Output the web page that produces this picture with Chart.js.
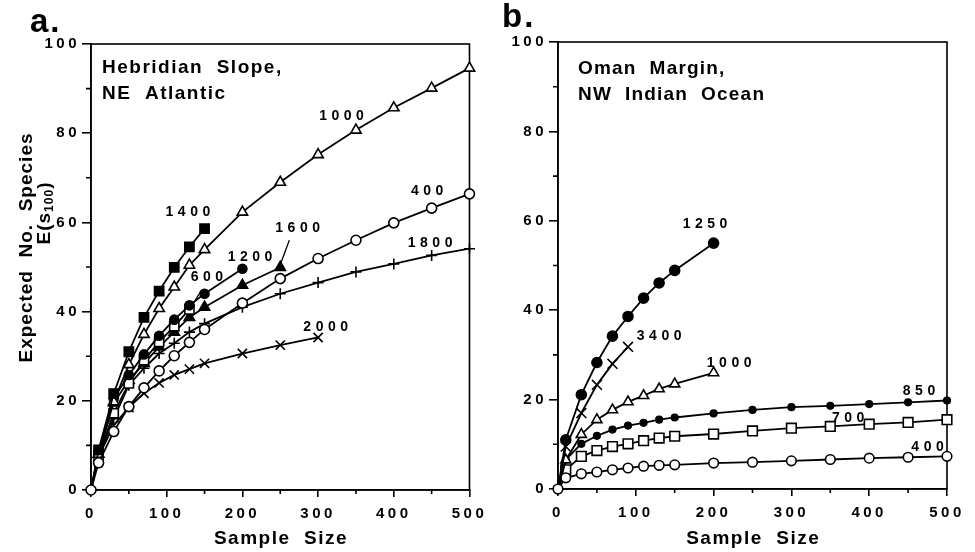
<!DOCTYPE html>
<html>
<head>
<meta charset="utf-8">
<script src="https://cdn.jsdelivr.net/npm/chart.js@4.4.0/dist/chart.umd.min.js"></script>
<style>
    html, body { margin: 0; padding: 0; background: #fff; }
    #wrap { position: relative; width: 975px; height: 552px; }
    canvas { position: absolute; top: 0; }
    #chartA { left: 0; }
    #chartB { left: 490px; }
</style>
</head>
<body>
<div id="wrap">
    <canvas id="chartA" width="490" height="552"></canvas>
    <canvas id="chartB" width="485" height="552"></canvas>
</div>
<script>
// Sample sizes at which expected species E(s100) was computed
const sampleSizes = [0, 10, 30, 50, 70, 90, 110, 130, 150, 200, 250, 300, 350, 400, 450, 500];
const xTickValues = [0, 100, 200, 300, 400, 500];
const yTickValues = [0, 20, 40, 60, 80, 100];

// Hebridian Slope stations (depth, m)
const heb400  = [0, 6.1, 13.1, 18.7, 22.9, 26.7, 30.1, 33.1, 36.0, 41.9, 47.4, 51.9, 56.0, 59.9, 63.2, 66.4];
const heb600  = [0, 7.8, 17.2, 23.9, 29.1, 33.2, 36.7, 40.5];
const heb1000 = [0, 8.0, 19.8, 28.1, 34.9, 40.7, 45.5, 50.4, 53.9, 62.3, 69.0, 75.2, 80.7, 85.7, 90.1, 94.6];
const heb1200 = [0, 8.5, 20.5, 25.8, 30.4, 34.6, 38.2, 41.4, 44.0, 49.6];
const heb1400 = [0, 9.0, 21.6, 31.0, 38.7, 44.6, 49.9, 54.5, 58.6];
const heb1600 = [0, 8.0, 19.5, 24.6, 28.4, 32.1, 35.4, 38.7, 41.0, 45.9, 49.9];
const heb1800 = [0, 7.5, 16.0, 23.5, 27.3, 30.6, 32.9, 35.4, 37.3, 41.0, 44.0, 46.5, 48.9, 50.7, 52.6, 54.1];
const heb2000 = [0, 7.5, 14.5, 18.5, 21.7, 24.0, 25.8, 27.1, 28.4, 30.6, 32.5, 34.2];

// Oman Margin stations (depth, m)
const oman400  = [0, 2.5, 3.4, 3.8, 4.3, 4.7, 5.1, 5.3, 5.4, 5.8, 6.0, 6.3, 6.6, 6.9, 7.1, 7.3];
const oman700  = [0, 4.3, 7.3, 8.6, 9.5, 10.1, 10.8, 11.4, 11.8, 12.3, 13.0, 13.6, 14.0, 14.5, 14.9, 15.5];
const oman850  = [0, 6.6, 10.1, 11.9, 13.3, 14.2, 14.8, 15.5, 16.0, 16.9, 17.7, 18.3, 18.6, 19.0, 19.4, 19.8];
const oman1000 = [0, 6.5, 12.2, 15.5, 17.7, 19.5, 20.9, 22.4, 23.5, 26.0];
const oman1250 = [0, 11.0, 21.1, 28.3, 34.2, 38.6, 42.7, 46.1, 48.9, 55.0];
const oman3400 = [0, 9.5, 17.0, 23.3, 28.0, 31.8];

const FONT = '"Liberation Sans", Arial, Helvetica, sans-serif';
Chart.defaults.font.family = FONT;
Chart.defaults.color = '#000';

const toPoints = (values) => values.map((y, i) => ({ x: sampleSizes[i], y }));

const series = (label, values, style) => ({
    label,
    data: toPoints(values),
    borderColor: '#000',
    borderWidth: 1.8,
    pointStyle: style.shape,
    pointRadius: ctx => (ctx.dataIndex === 0 && !style.origin) ? 0 : style.r,
    pointHoverRadius: style.r,
    pointBackgroundColor: style.filled ? '#000' : '#fff',
    pointBorderColor: '#000',
    pointBorderWidth: 1.6,
    tension: 0,
    clip: false
});

// text with canvas letter spacing, positioned by its visible extent
function spacedText(ctx, text, x, y, spacing, align) {
    ctx.letterSpacing = spacing + 'px';
    const w = ctx.measureText(text).width - spacing;
    let left = x;
    if (align === 'center') left = x - w / 2;
    else if (align === 'right') left = x - w;
    ctx.textAlign = 'left';
    ctx.fillText(text, left, y);
    ctx.letterSpacing = '0px';
}

const decor = {
    id: 'decor',
    beforeDraw(chart) {
        chart.ctx.letterSpacing = '3.5px';
    },
    beforeDatasetsDraw(chart, args, opts) {
        const { ctx, chartArea: a, scales: { x, y } } = chart;
        ctx.save();
        ctx.letterSpacing = '0px';
        ctx.strokeStyle = '#000';
        ctx.lineWidth = 1.6;
        ctx.strokeRect(a.left, a.top, a.right - a.left, a.bottom - a.top);
        // minor ticks
        ctx.beginPath();
        for (let v = 10; v < 100; v += 20) {
            const py = y.getPixelForValue(v);
            ctx.moveTo(a.left - 5, py);
            ctx.lineTo(a.left, py);
        }
        for (let v = 50; v < 500; v += 100) {
            const px = x.getPixelForValue(v);
            ctx.moveTo(px, a.bottom);
            ctx.lineTo(px, a.bottom + 4);
        }
        ctx.stroke();
        // leader lines from labels
        ctx.lineWidth = 1.3;
        opts.labels.forEach(l => {
            if (!l.leader) return;
            ctx.beginPath();
            ctx.moveTo(x.getPixelForValue(l.leader[0]), y.getPixelForValue(l.leader[1]));
            ctx.lineTo(x.getPixelForValue(l.leader[2]), y.getPixelForValue(l.leader[3]));
            ctx.stroke();
        });
        ctx.restore();
    },
    afterDraw(chart, args, opts) {
        const { ctx, chartArea: a, scales: { x, y } } = chart;
        ctx.save();
        ctx.fillStyle = '#000';
        ctx.textBaseline = 'middle';

        // depth labels
        ctx.font = 'bold 14px ' + FONT;
        opts.labels.forEach(l => {
            spacedText(ctx, l.text, x.getPixelForValue(l.x), y.getPixelForValue(l.y), 4.5, 'center');
        });

        ctx.textBaseline = 'alphabetic';
        // region name
        ctx.font = 'bold 19px ' + FONT;
        spacedText(ctx, opts.title[0], a.left + opts.titleDx, a.top + opts.titleDy, opts.titleSpacing, 'left');
        spacedText(ctx, opts.title[1], a.left + opts.titleDx, a.top + opts.titleDy + 25.5, opts.titleSpacing, 'left');

        // panel letter
        ctx.font = 'bold 33px ' + FONT;
        spacedText(ctx, opts.letter, opts.letterX, opts.letterY, 2, 'left');

        // x axis title
        ctx.font = 'bold 19px ' + FONT;
        spacedText(ctx, 'Sample  Size', (a.left + a.right) / 2, 544, 1.5, 'center');

        if (opts.yTitle) {
            ctx.save();
            ctx.translate(32, 248);
            ctx.rotate(-Math.PI / 2);
            ctx.font = 'bold 19px ' + FONT;
            spacedText(ctx, 'Expected  No.  Species', 0, 0, 1, 'center');
            ctx.restore();

            // E(s100) with subscript
            ctx.save();
            ctx.translate(50, 213);
            ctx.rotate(-Math.PI / 2);
            ctx.letterSpacing = '1px';
            const parts = [
                ['E(', 19, 0], ['s', 19, 0], ['100', 12, 3], [')', 19, 0]
            ];
            let total = 0;
            parts.forEach(p => { ctx.font = 'bold ' + p[1] + 'px ' + FONT; total += ctx.measureText(p[0]).width; });
            let cx = -total / 2;
            parts.forEach(p => {
                ctx.font = 'bold ' + p[1] + 'px ' + FONT;
                ctx.fillText(p[0], cx, p[2]);
                cx += ctx.measureText(p[0]).width;
            });
            ctx.restore();
        }
        ctx.restore();
    }
};

function makeScales(yWidth, xHeight) {
    const axisFont = { size: 15, weight: 'bold', family: FONT };
    return {
        x: {
            type: 'linear',
            min: 0,
            max: 500,
            afterBuildTicks: s => { s.ticks = xTickValues.map(v => ({ value: v })); },
            afterFit: s => { s.height = xHeight; },
            ticks: { font: axisFont, padding: 8, maxRotation: 0, color: '#000' },
            grid: { drawOnChartArea: false, tickLength: 7, color: '#000', lineWidth: 1.6 },
            border: { display: true, color: '#000', width: 1.6 }
        },
        y: {
            min: 0,
            max: 100,
            afterBuildTicks: s => { s.ticks = yTickValues.map(v => ({ value: v })); },
            afterFit: s => { s.width = yWidth; },
            ticks: { font: axisFont, padding: 2, color: '#000' },
            grid: { drawOnChartArea: false, tickLength: 9, color: '#000', lineWidth: 1.6 },
            border: { display: true, color: '#000', width: 1.6 }
        }
    };
}

document.addEventListener('DOMContentLoaded', function() {
    // Panel a: Hebridian Slope
    new Chart(document.getElementById('chartA').getContext('2d'), {
        type: 'line',
        data: {
            datasets: [
                series('400', heb400, { shape: 'circle', r: 5, filled: false, origin: true }),
                series('1400', heb1400, { shape: 'rect', r: 6.5, filled: true }),
                series('1000', heb1000, { shape: 'triangle', r: 6, filled: false }),
                series('1200', heb1200, { shape: 'circle', r: 4.5, filled: true }),
                series('600', heb600, { shape: 'rect', r: 6.5, filled: false }),
                series('1600', heb1600, { shape: 'triangle', r: 6, filled: true }),
                series('1800', heb1800, { shape: 'cross', r: 5.5, filled: false }),
                series('2000', heb2000, { shape: 'crossRot', r: 6.5, filled: false })
            ]
        },
        options: {
            responsive: false,
            animation: false,
            events: [],
            layout: { padding: { left: 0, right: 9, top: 44, bottom: 0 } },
            scales: makeScales(91, 62),
            plugins: {
                legend: { display: false },
                tooltip: { enabled: false },
                decor: {
                    letter: 'a.', letterX: 30, letterY: 32,
                    title: ['Hebridian  Slope,', 'NE  Atlantic'],
                    titleDx: 11, titleDy: 29, titleSpacing: 1.5,
                    yTitle: true,
                    labels: [
                        { text: '1000', x: 331, y: 83.9 },
                        { text: '400', x: 444, y: 66.9 },
                        { text: '1400', x: 128, y: 62.3 },
                        { text: '1600', x: 273, y: 58.7, leader: [262, 56.0, 250, 50.5] },
                        { text: '1800', x: 448, y: 55.3 },
                        { text: '1200', x: 210, y: 52.1 },
                        { text: '600', x: 153, y: 47.8, leader: [146, 44.8, 131, 40.7] },
                        { text: '2000', x: 310, y: 36.6 }
                    ]
                }
            }
        },
        plugins: [decor]
    });

    // Panel b: Oman Margin
    new Chart(document.getElementById('chartB').getContext('2d'), {
        type: 'line',
        data: {
            datasets: [
                series('400', oman400, { shape: 'circle', r: 4.8, filled: false, origin: true }),
                series('1250', oman1250, { shape: 'circle', r: 5, filled: true }),
                series('3400', oman3400, { shape: 'crossRot', r: 7, filled: false }),
                series('1000', oman1000, { shape: 'triangle', r: 5.8, filled: false }),
                series('850', oman850, { shape: 'circle', r: 3.3, filled: true }),
                series('700', oman700, { shape: 'rect', r: 6.8, filled: false })
            ]
        },
        options: {
            responsive: false,
            animation: false,
            events: [],
            layout: { padding: { left: 0, right: 28, top: 42, bottom: 0 } },
            scales: makeScales(68, 63),
            plugins: {
                legend: { display: false },
                tooltip: { enabled: false },
                decor: {
                    letter: 'b.', letterX: 12, letterY: 27,
                    title: ['Oman  Margin,', 'NW  Indian  Ocean'],
                    titleDx: 20, titleDy: 32, titleSpacing: 1.2,
                    yTitle: false,
                    labels: [
                        { text: '1250', x: 189, y: 59.3 },
                        { text: '3400', x: 130, y: 34.2 },
                        { text: '1000', x: 220, y: 28.1 },
                        { text: '850', x: 464, y: 22.0 },
                        { text: '700', x: 373, y: 15.8 },
                        { text: '400', x: 475, y: 9.4 }
                    ]
                }
            }
        },
        plugins: [decor]
    });
});
</script>
</body>
</html>
